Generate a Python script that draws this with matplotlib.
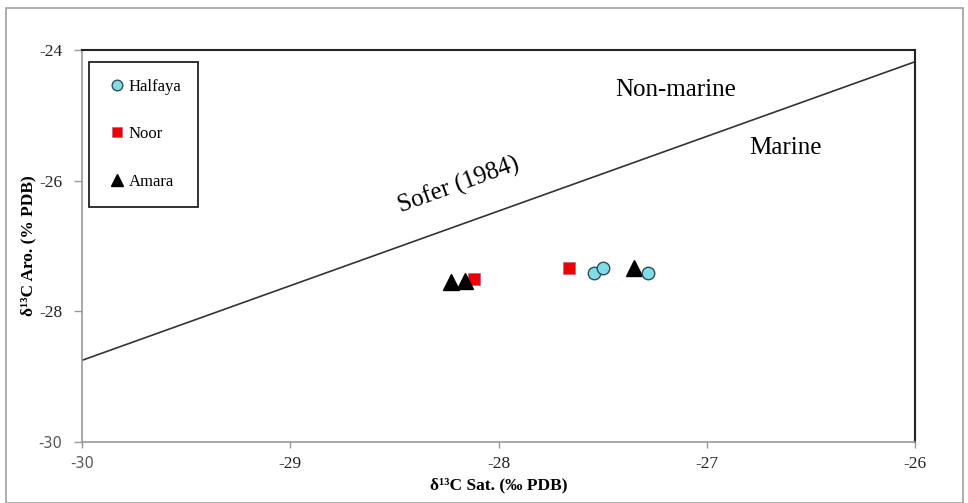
import matplotlib
matplotlib.use("Agg")
import matplotlib.pyplot as plt
from matplotlib.patches import Rectangle

# ---- data ----
halfaya_sat = [-27.54, -27.50, -27.28]
halfaya_aro = [-27.42, -27.33, -27.41]
noor_sat = [-28.12, -27.66]
noor_aro = [-27.51, -27.34]
amara_sat = [-28.23, -28.16, -27.35]
amara_aro = [-27.55, -27.54, -27.34]
sofer_x = [-30, -26]
sofer_y = [-28.75, -24.18]
x_ticks = [-30, -29, -28, -27, -26]
y_ticks = [-30, -28, -26, -24]

serif = "Liberation Serif"

fig = plt.figure(figsize=(9.68, 5.03), dpi=100)
fig.patches.append(Rectangle((6/968, 0.0), (963-6)/968, 1 - 8/503,
                             transform=fig.transFigure, fill=False,
                             edgecolor="#a0a0a0", linewidth=1.2))
ax = fig.add_axes([82/968, 1 - 442/503, (915-82)/968, (442-50)/503])

ax.plot(sofer_x, sofer_y, color="#333333", linewidth=1.2, zorder=2)

ax.plot(halfaya_sat, halfaya_aro, linestyle="none", marker="o", markersize=9,
        markerfacecolor="#7fdde9", markeredgecolor="#2f4f55", markeredgewidth=1.0,
        label="Halfaya", zorder=4)
ax.plot(noor_sat, noor_aro, linestyle="none", marker="s", markersize=8,
        markerfacecolor="#ee0000", markeredgecolor="#c06080", markeredgewidth=0.5,
        label="Noor", zorder=3)
ax.plot(amara_sat, amara_aro, linestyle="none", marker="^", markersize=11,
        markerfacecolor="black", markeredgecolor="black",
        label="Amara", zorder=3)

ax.set_xlim(-30, -26)
ax.set_ylim(-30, -24)
ax.set_xticks(x_ticks)
ax.set_yticks(y_ticks)
ax.set_xticklabels([str(v) for v in x_ticks])
ax.set_yticklabels([str(v) for v in y_ticks])

for lab in ax.get_xticklabels() + ax.get_yticklabels():
    if lab.get_text() == "-30":
        lab.set_fontfamily("DejaVu Sans")
        lab.set_fontsize(10.5)
        lab.set_color("#595959")
    else:
        lab.set_fontfamily(serif)
        lab.set_fontsize(12.5)
        lab.set_color("#222222")

ax.tick_params(axis="x", direction="out", length=4, width=1, color="#999999", pad=6)
ax.tick_params(axis="y", direction="out", length=6, width=1, color="#999999", pad=8)

ax.spines["top"].set_color("#222222")
ax.spines["right"].set_color("#222222")
ax.spines["top"].set_linewidth(1.5)
ax.spines["right"].set_linewidth(1.5)
ax.spines["left"].set_color("#999999")
ax.spines["bottom"].set_color("#999999")
ax.spines["left"].set_linewidth(1.2)
ax.spines["bottom"].set_linewidth(1.2)

ax.set_xlabel("δ¹³C Sat. (‰ PDB)", fontfamily=serif, fontweight="bold",
              fontsize=12.5, labelpad=4)
ax.set_ylabel("δ¹³C Aro. (% PDB)", fontfamily=serif, fontweight="bold",
              fontsize=12.5, labelpad=2)

ax.text(-28.19, -26.07, "Sofer (1984)", fontfamily=serif, fontsize=18,
        rotation=20, ha="center", va="center", rotation_mode="anchor")
ax.text(-27.15, -24.61, "Non-marine", fontfamily=serif, fontsize=18,
        ha="center", va="center")
ax.text(-26.62, -25.50, "Marine", fontfamily=serif, fontsize=18,
        ha="center", va="center")

leg = ax.legend(loc="upper left", bbox_to_anchor=(7/833, 1 - 12/392),
                prop={"family": serif, "size": 12}, frameon=True, fancybox=False,
                edgecolor="#222222", framealpha=1, borderpad=1.0,
                labelspacing=1.9, handlelength=1.4, handletextpad=0.0,
                borderaxespad=0, markerscale=0.85)
leg.get_frame().set_linewidth(1.3)

fig.savefig("out.png", dpi=100)
